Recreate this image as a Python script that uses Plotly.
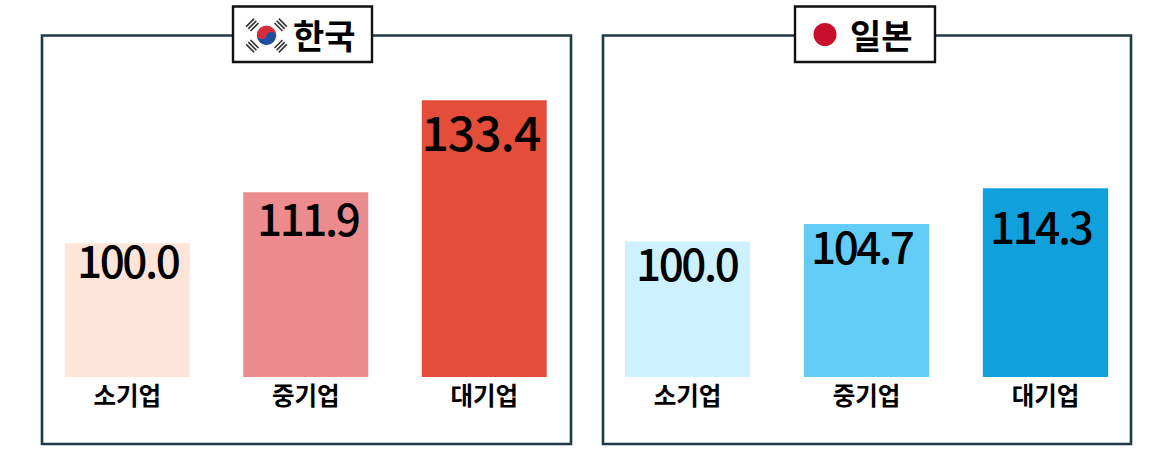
import numpy as np
import plotly.graph_objects as go
from plotly.subplots import make_subplots

W = 1156
H = 468
FONT = "Noto Sans CJK KR"

categories = ["소기업", "중기업", "대기업"]
korea_values = [100.0, 111.9, 133.4]
japan_values = [100.0, 104.7, 114.3]
korea_colors = ["#FEE5D8", "#EC8C8E", "#E44D3A"]
japan_colors = ["#CDF1FE", "#62CDF6", "#10A0DC"]


def px(x):
    return x / W


def py(y):
    return 1 - y / H


def rect(x0, y0, x1, y1, line, width, fill="rgba(0,0,0,0)"):
    return dict(type="rect", xref="paper", yref="paper", x0=px(x0), x1=px(x1), y0=py(y0), y1=py(y1),
                line=dict(color=line, width=width), fillcolor=fill)


def poly(points, color):
    path = "M " + " L ".join(f"{px(x):.5f},{py(y):.5f}" for x, y in points) + " Z"
    return dict(type="path", xref="paper", yref="paper", path=path, fillcolor=color, line=dict(width=0))


# 태극기 그리기
def korea_flag(cx, cy, r):
    shapes = []
    t = np.radians(np.linspace(0, 180, 40))
    tilt = np.radians(15)

    def turn(x, y):
        return (cx + x * np.cos(tilt) - y * np.sin(tilt), cy + x * np.sin(tilt) + y * np.cos(tilt))

    outer = [turn(r * np.cos(a), -r * np.sin(a)) for a in t]
    left = [turn(-r / 2 - r / 2 * np.cos(a), r / 2 * np.sin(a)) for a in t]
    right = [turn(r / 2 - r / 2 * np.cos(a), -r / 2 * np.sin(a)) for a in t]
    shapes.append(dict(type="circle", xref="paper", yref="paper", x0=px(cx - r), x1=px(cx + r),
                       y0=py(cy + r), y1=py(cy - r), fillcolor="#1F4E9E", line=dict(width=0)))
    shapes.append(poly(outer + left + right, "#D92C3A"))
    for sx, sy in [(-1, -1), (1, -1), (-1, 1), (1, 1)]:
        for d in [0, 3, 6]:
            mx = cx + sx * (12 + d * 0.72)
            my = cy + sy * (8.5 + d * 0.72)
            dx, dy = sx * 4, -sy * 4
            shapes.append(dict(type="line", xref="paper", yref="paper",
                               x0=px(mx - dx), x1=px(mx + dx), y0=py(my - dy), y1=py(my + dy),
                               line=dict(color="#333333", width=1.6)))
    return shapes


# 막대 안 숫자 라벨 (막대 위 끝에서 조금씩 내려서 놓임)
def value_labels(values, xref, yref, sizes, xshifts, yshifts):
    labels = []
    for cat, val, size, xs, ys in zip(categories, values, sizes, xshifts, yshifts):
        labels.append(dict(text=f"{val:.1f}", x=cat, y=val, xref=xref, yref=yref, showarrow=False,
                           yanchor="middle", xshift=xs, yshift=ys,
                           font=dict(family=FONT, size=size, color="#000000", weight=500)))
    return labels


fig = make_subplots(rows=1, cols=2)

fig.add_trace(go.Bar(x=categories, y=korea_values, marker=dict(color=korea_colors, line=dict(width=0)),
                     hoverinfo="skip"), row=1, col=1)
fig.add_trace(go.Bar(x=categories, y=japan_values, marker=dict(color=japan_colors, line=dict(width=0)),
                     hoverinfo="skip"), row=1, col=2)

axis_bottom = py(377)
axis_top = py(35)
fig.update_xaxes(showgrid=False, zeroline=False, showline=False, ticks="", range=[-0.5, 2.5],
                 tickfont=dict(family=FONT, size=24.5, color="#000000", weight=700), ticklabelstandoff=2)
fig.update_xaxes(domain=[px(38), px(573.5)], row=1, col=1)
fig.update_xaxes(domain=[px(598), px(1135)], row=1, col=2)
fig.update_yaxes(visible=False, showgrid=False, zeroline=False, domain=[axis_bottom, axis_top])
fig.update_yaxes(range=[68.8, 148.6], row=1, col=1)
fig.update_yaxes(range=[63.67, 155.4], row=1, col=2)

shapes = [
    rect(42, 35.5, 571, 444, "#1F3A44", 2.6),
    rect(603, 35.5, 1131, 444, "#1F3A44", 2.6),
    rect(233, 6.5, 372, 62, "#111111", 2.4, "#FFFFFF"),
    rect(795, 6.5, 935, 62, "#111111", 2.4, "#FFFFFF"),
]
shapes += korea_flag(266.5, 35.5, 9.7)
shapes.append(dict(type="circle", xref="paper", yref="paper", x0=px(813.5), x1=px(836.5), y0=py(23), y1=py(46),
                   fillcolor="#C8102E", line=dict(width=0)))

annotations = [
    dict(text="<b>한국</b>", xref="paper", yref="paper", x=px(324), y=py(34.5), xanchor="center", yanchor="middle",
         showarrow=False, font=dict(family=FONT, size=34, color="#000000")),
    dict(text="<b>일본</b>", xref="paper", yref="paper", x=px(881), y=py(34.5), xanchor="center", yanchor="middle",
         showarrow=False, font=dict(family=FONT, size=34, color="#000000")),
]
annotations += value_labels(korea_values, "x", "y", [44, 44, 48], [0, 2, -3], [-16, -25, -30])
annotations += value_labels(japan_values, "x2", "y2", [44, 44, 44], [-1, -5, -5], [-20, -21, -37])

fig.update_layout(
    width=W, height=H, margin=dict(l=0, r=0, t=0, b=0), showlegend=False,
    paper_bgcolor="#FFFFFF", plot_bgcolor="#FFFFFF", bargap=0.3, shapes=shapes, annotations=annotations,
)

# 숫자 자간을 좁힘
tighten = """
document.body.style.margin='0';
document.body.style.overflow='hidden';
document.querySelectorAll('.annotation-text').forEach(function (el) {
    if (/\\d/.test(el.textContent)) {
        el.style.letterSpacing = el.textContent === '133.4' ? '-1px' : '-2.4px';
    }
});
"""
fig.write_html("out.html", config=dict(displayModeBar=False), post_script=tighten)
